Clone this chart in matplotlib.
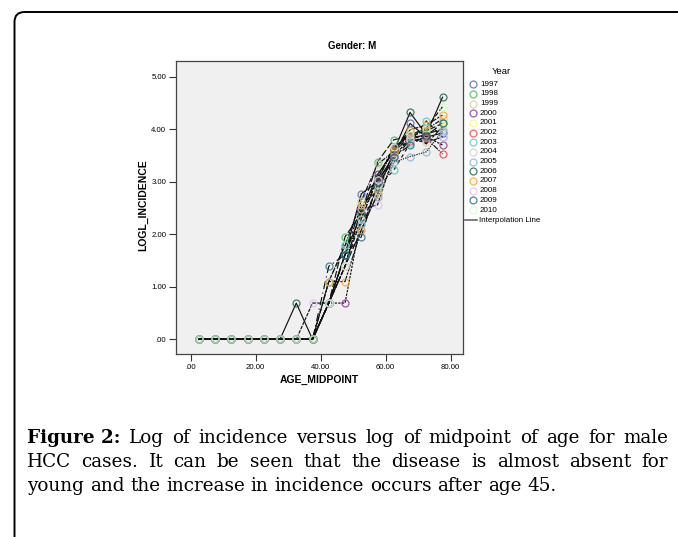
import matplotlib
matplotlib.use('Agg')
import matplotlib.pyplot as plt
from matplotlib.lines import Line2D
from matplotlib.patches import FancyBboxPatch

# age group midpoints and log incidence per year
ages = [2.5, 7.5, 12.5, 17.5, 22.5, 27.5, 32.5, 37.5,
        42.5, 47.5, 52.5, 57.5, 62.5, 67.5, 72.5, 77.5]
years = ['1997', '1998', '1999', '2000', '2001', '2002', '2003',
         '2004', '2005', '2006', '2007', '2008', '2009', '2010']
zeros = [0, 0, 0, 0, 0, 0, 0]
log_inc = {
    '1997': zeros + [0, 0.69, 1.61, 2.77, 3.00, 3.50, 4.11, 3.85, 3.93],
    '1998': zeros + [0, 0.69, 1.95, 2.40, 3.38, 3.80, 3.87, 3.97, 4.11],
    '1999': zeros + [0, 1.10, 1.79, 2.64, 3.33, 3.58, 3.85, 3.99, 4.20],
    '2000': zeros + [0, 0.69, 0.69, 2.30, 3.09, 3.65, 3.87, 3.86, 3.70],
    '2001': zeros + [0, 0.69, 1.61, 2.56, 2.83, 3.55, 3.95, 3.72, 4.05],
    '2002': zeros + [0, 0.69, 1.39, 2.48, 3.04, 3.61, 3.78, 3.83, 3.53],
    '2003': zeros + [0, 1.10, 1.79, 2.20, 2.89, 3.22, 3.73, 4.16, 3.85],
    '2004': zeros + [0, 0.69, 1.39, 2.08, 2.94, 3.43, 3.80, 3.91, 4.00],
    '2005': zeros + [0, 0.69, 1.61, 2.20, 2.71, 3.37, 3.48, 3.57, 3.97],
    '2006': [0, 0, 0, 0, 0, 0, 0.69, 0, 0.69, 1.61, 2.40, 3.14, 3.58, 4.32, 3.90, 4.61],
    '2007': zeros + [0, 1.10, 1.10, 2.08, 2.77, 3.59, 3.99, 4.08, 4.27],
    '2008': zeros + [0.69, 0.69, 1.39, 2.48, 2.56, 3.50, 3.81, 3.75, 3.85],
    '2009': zeros + [0, 1.39, 1.61, 1.95, 3.00, 3.47, 3.70, 3.88, 4.11],
    '2010': zeros + [0, 0.69, 1.39, 2.30, 3.04, 3.66, 3.89, 4.02, 4.43],
}
xticks = [0, 20, 40, 60, 80]
xtick_labels = ['.00', '20.00', '40.00', '60.00', '80.00']
yticks = [0, 1, 2, 3, 4, 5]
ytick_labels = ['.00', '1.00', '2.00', '3.00', '4.00', '5.00']

# SPSS-like marker colours and interpolation line dash patterns
colors = ['#3E58AC', '#2EB848', '#D3CE97', '#7C287D', '#FBF873', '#EF3338', '#48C2C5',
          '#CCCCCC', '#7AAAD5', '#0A562C', '#F8981D', '#DDBAF1', '#1A5F76', '#CCFFCC']
dashes = ['-', (0, (6, 2)), (0, (4, 1, 1, 1)), (0, (2, 1)), (0, (8, 2, 2, 2)),
          (0, (5, 1, 1, 1, 1, 1)), (0, (3, 3)), (0, (10, 2)), (0, (1, 1)), '-',
          (0, (6, 1, 2, 1)), (0, (3, 1)), (0, (7, 3, 1, 3)), (0, (4, 2))]

W, H = 678, 537
fig = plt.figure(figsize=(W / 100, H / 100), dpi=100)
sans = 'Liberation Sans'

# outer frame with rounded top-left corner (cut off on right and bottom)
frame = FancyBboxPatch((14.5, -30), 720, H - 12 + 30, boxstyle='round,pad=0,rounding_size=10',
                       transform=None, fill=False, edgecolor='black', linewidth=1.4)
fig.add_artist(frame)

ax = fig.add_axes([176 / W, 1 - 354 / H, (463 - 176) / W, (354 - 61) / H])
ax.set_facecolor('#F0F0F0')
for i, yr in enumerate(years):
    ax.plot(ages, log_inc[yr], color='#111111', linestyle=dashes[i], linewidth=0.85, zorder=2)
for i, yr in enumerate(years):
    ax.plot(ages, log_inc[yr], linestyle='none', marker='o', markersize=5,
            markerfacecolor='none', markeredgecolor=colors[i], markeredgewidth=0.9,
            alpha=0.75, zorder=3)

ax.set_xlim(-4.5, 83.8)
ax.set_ylim(-0.28, 5.3)
ax.set_xticks(xticks)
ax.set_xticklabels(xtick_labels, fontsize=5.6, family=sans)
ax.set_yticks(yticks)
ax.set_yticklabels(ytick_labels, fontsize=5.6, family=sans)
ax.tick_params(length=5, width=0.8, color='#333333', pad=2)
for s in ax.spines.values():
    s.set_color('#444444')
    s.set_linewidth(0.9)

fig.text(352 / W, 1 - 46 / H, 'Gender: M', ha='center', va='center',
         fontsize=7, fontweight='bold', family=sans)
fig.text(319.5 / W, 1 - 380 / H, 'AGE_MIDPOINT', ha='center', va='center',
         fontsize=7.5, fontweight='bold', family=sans)
fig.text(143 / W, 1 - 205 / H, 'LOGL_INCIDENCE', ha='center', va='center', rotation=90,
         fontsize=7.5, fontweight='bold', family=sans)

# legend drawn by hand for exact spacing
fig.text(501 / W, 1 - 71 / H, 'Year', ha='center', va='center', fontsize=6.8, family=sans)
for i, yr in enumerate(years):
    y = 1 - (84.3 + i * 9.67) / H
    fig.add_artist(Line2D([472.7 / W], [y], marker='o', markersize=5, markerfacecolor='none',
                          markeredgecolor=colors[i], markeredgewidth=0.9, alpha=0.75,
                          transform=fig.transFigure))
    fig.text(480 / W, y, yr, ha='left', va='center', fontsize=5.8, family=sans)
y = 1 - 220 / H
fig.add_artist(Line2D([465 / W, 477 / W], [y, y], color='#666666', linewidth=1.2,
                      transform=fig.transFigure))
fig.text(478.5 / W, y, 'Interpolation Line', ha='left', va='center', fontsize=5.8, family=sans)

# caption, justified on the first two lines
serif = 'DejaVu Serif'
left, right = 27, 668
lines = [
    [('Figure 2:', 'bold'), 'Log', 'of', 'incidence', 'versus', 'log', 'of', 'midpoint',
     'of', 'age', 'for', 'male'],
    'HCC cases. It can be seen that the disease is almost absent for'.split(),
    'young and the increase in incidence occurs after age 45.'.split(),
]
baselines = [443, 467, 491]
renderer = fig.canvas.get_renderer()


def text_width(s, size, weight='normal'):
    t = fig.text(0, 0, s, fontsize=size, family=serif, fontweight=weight)
    w = t.get_window_extent(renderer).width
    t.remove()
    return w


# pick the size that makes the last line about as wide as in the original
fs = 13 * 531 / text_width(' '.join(lines[2]), 13)
space = text_width('a a', fs) - text_width('aa', fs)

for li, words in enumerate(lines):
    yb = 1 - baselines[li] / H
    arts = []
    for w in words:
        if isinstance(w, tuple):
            t = fig.text(0, yb, w[0], fontsize=fs, family=serif, fontweight=w[1],
                         va='baseline', ha='left')
        else:
            t = fig.text(0, yb, w, fontsize=fs, family=serif, va='baseline', ha='left')
        arts.append(t)
    widths = [a.get_window_extent(renderer).width for a in arts]
    if li < 2:
        gap = (right - left - sum(widths)) / (len(widths) - 1)
    else:
        gap = space
    x = left
    for a, wdt in zip(arts, widths):
        a.set_x(x / W)
        x += wdt + gap

fig.savefig('out.png', dpi=100)
